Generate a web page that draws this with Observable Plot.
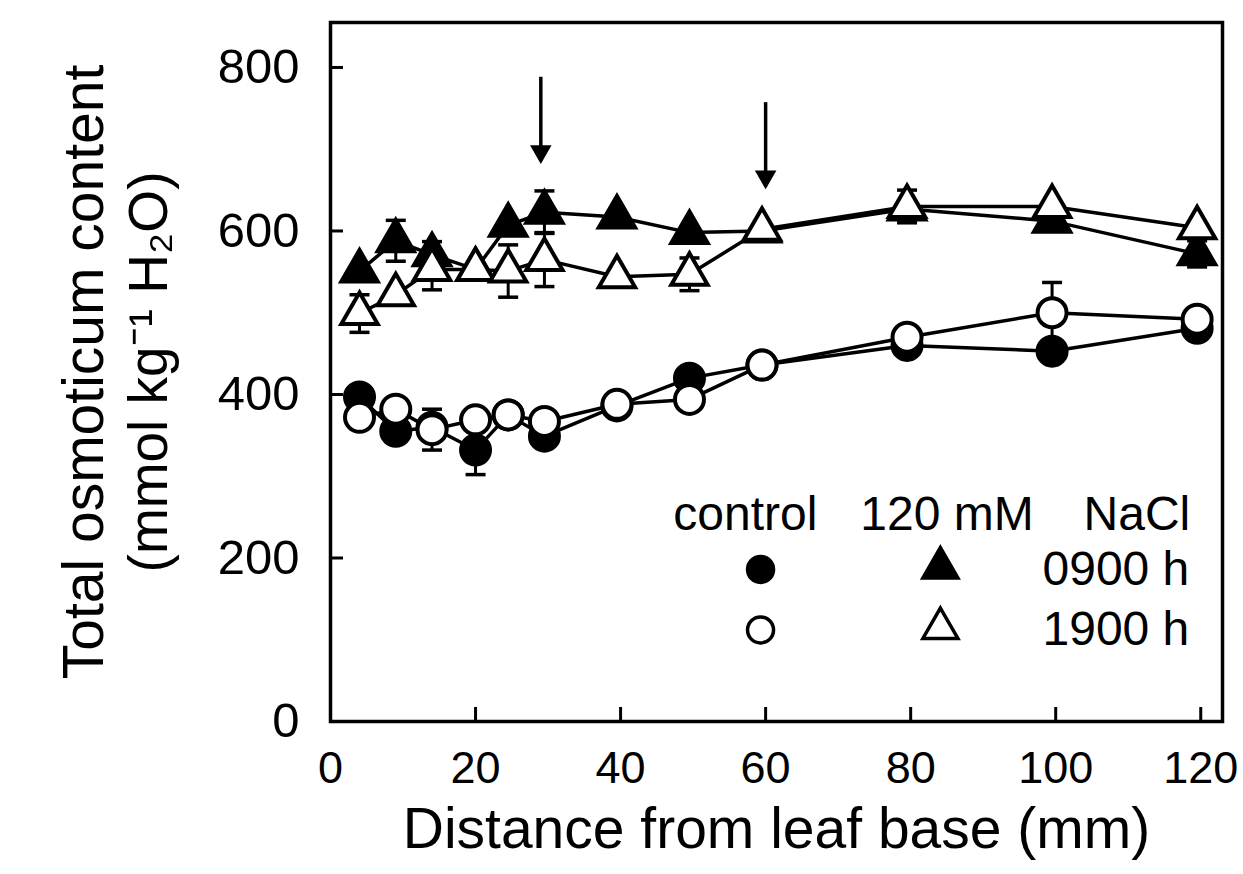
<!DOCTYPE html>
<html><head><meta charset="utf-8">
<script src="https://cdn.jsdelivr.net/npm/d3@7"></script>
<script src="https://cdn.jsdelivr.net/npm/@observablehq/plot@0.6"></script>
<style>body{margin:0;background:#fff;}</style>
</head><body><div id="chart"></div>
<script>
// Distance from leaf base (mm)
const distance = [4, 9, 14, 20, 24.5, 29.5, 39.5, 49.5, 59.5, 79.5, 99.5, 119.5];
// Total osmoticum content (mmol kg-1 H2O)
const control0900 = [397, 355, 360, 332, 375, 349, 386, 420, 436, 460, 453, 481];
const control1900 = [372, 382, 357, 369, 375, 367, 388, 394, 436, 470, 500, 492];
const nacl0900    = [551, 588, 571, 553, 607, 623, 617, 598, 600, 627, 612, 572];
const nacl1900    = [499, 522, 553, 553, 551, 565, 544, 547, 602, 630, 630, 604];
// standard errors (0 = hidden by symbol)
const control0900Err = [0, 0, 0, 30, 0, 0, 0, 0, 0, 0, 0, 0];
const control1900Err = [0, 0, 25, 0, 0, 0, 0, 0, 14, 0, 37, 0];
const nacl0900Err    = [0, 25, 16, 0, 0, 26, 0, 0, 0, 0, 0, 16];
const nacl1900Err    = [23, 0, 25, 0, 32, 33, 0, 20, 0, 20, 0, 0];

const xTicks = [0, 20, 40, 60, 80, 100, 120];
const yTicks = [0, 200, 400, 600, 800];

const arrowX  = [29, 60];
const arrowY1 = [788, 757];
const arrowY2 = [685, 654];

const legendHeaders = ["control", "120 mM", "NaCl"];
const legendTimes = ["0900 h", "1900 h"];

const xTitle = "Distance from leaf base (mm)";
const yTitle1 = "Total osmoticum content";
const yTitle2 = "(mmol kg⁻¹ H₂O)";

const seriesDefs = [
  {name: "control 0900", vals: control0900, err: control0900Err, symbol: "circle", fill: "black"},
  {name: "NaCl 0900", vals: nacl0900, err: nacl0900Err, symbol: "triangle", fill: "black"},
  {name: "control 1900", vals: control1900, err: control1900Err, symbol: "circle", fill: "white"},
  {name: "NaCl 1900", vals: nacl1900, err: nacl1900Err, symbol: "triangle", fill: "white"}
];
const rows = seriesDefs.flatMap(s => distance.map((x, i) => ({
  series: s.name, x, y: s.vals[i], e: s.err[i], symbol: s.symbol, fill: s.fill
})));
const errRows = rows.filter(d => d.e > 0);
const caps = errRows.flatMap(d => [{x: d.x, y: d.y + d.e}, {x: d.x, y: d.y - d.e}]);
const capSymbol = {draw(c) { c.moveTo(-10, 0); c.lineTo(10, 0); }};

const arrows = arrowX.map((x, i) => ({x, y1: arrowY1[i], y2: arrowY2[i]}));

// legend layout (data space annotation)
const legendHead = [
  {x: 57.2, y: 253, t: legendHeaders[0]},
  {x: 85, y: 253, t: legendHeaders[1]},
  {x: 111.2, y: 253, t: legendHeaders[2]},
  {x: 108.3, y: 186, t: legendTimes[0]},
  {x: 108.3, y: 112, t: legendTimes[1]}
];
const legendSym = [
  {x: 59.3, y: 186, symbol: "circle", fill: "black"},
  {x: 84.1, y: 188, symbol: "triangle", fill: "black"},
  {x: 59.3, y: 112, symbol: "circle", fill: "white"},
  {x: 84.1, y: 114, symbol: "triangle", fill: "white"}
];

const font = "'Liberation Sans', Arial, Helvetica, sans-serif";

const chart = Plot.plot({
  width: 1243, height: 874,
  marginLeft: 330, marginRight: 21, marginTop: 22, marginBottom: 153,
  style: {fontFamily: font, fontSize: "46px", color: "black", background: "white", overflow: "visible"},
  x: {domain: [0, 123]},
  y: {domain: [0, 855]},
  marks: [
    Plot.axisX({ticks: xTicks, tickSize: -14, tickPadding: 44, strokeWidth: 3, label: null, fontSize: 45}),
    Plot.axisY({ticks: yTicks, tickSize: -13, tickPadding: 44, strokeWidth: 3, label: null, fontSize: 49}),
    Plot.axisY({ticks: [], tickSize: 0, label: yTitle1, labelAnchor: "center", labelArrow: "none", labelOffset: 268, fontSize: 57}),
    Plot.axisY({ticks: [], tickSize: 0, label: yTitle2, labelAnchor: "center", labelArrow: "none", labelOffset: 203, fontSize: 55}),
    Plot.frame({strokeWidth: 3.5}),
    Plot.ruleX(errRows, {x: "x", y1: d => d.y - d.e, y2: d => d.y + d.e, strokeWidth: 3}),
    Plot.dot(caps, {x: "x", y: "y", symbol: capSymbol, stroke: "black", strokeWidth: 3.5, r: 5}),
    Plot.line(rows, {x: "x", y: "y", z: "series", stroke: "black", strokeWidth: 3.5}),
    Plot.dot(rows.filter(d => d.symbol === "circle"), {x: "x", y: "y", symbol: "circle", fill: "fill", stroke: "black", strokeWidth: 4, r: 14.5}),
    Plot.dot(rows.filter(d => d.symbol === "triangle"), {x: "x", y: "y", symbol: "triangle", fill: "fill", stroke: "black", strokeWidth: 4, r: 13.5}),
    Plot.ruleX(arrows, {x: "x", y1: "y1", y2: "y2", strokeWidth: 3.5}),
    Plot.dot(arrows, {x: "x", y: "y2", symbol: "triangle", rotate: 180, fill: "black", r: 8, dy: -10}),
    Plot.text(legendHead, {x: "x", y: "y", text: "t", fontSize: 48}),
    Plot.dot(legendSym, {x: "x", y: "y", symbol: "symbol", fill: "fill", stroke: "black", strokeWidth: 3.5, r: 13}),
    Plot.text([xTitle], {text: d => d, frameAnchor: "bottom", dy: 126, fontSize: 57})
  ]
});
document.getElementById("chart").append(chart);
</script>
</body></html>
